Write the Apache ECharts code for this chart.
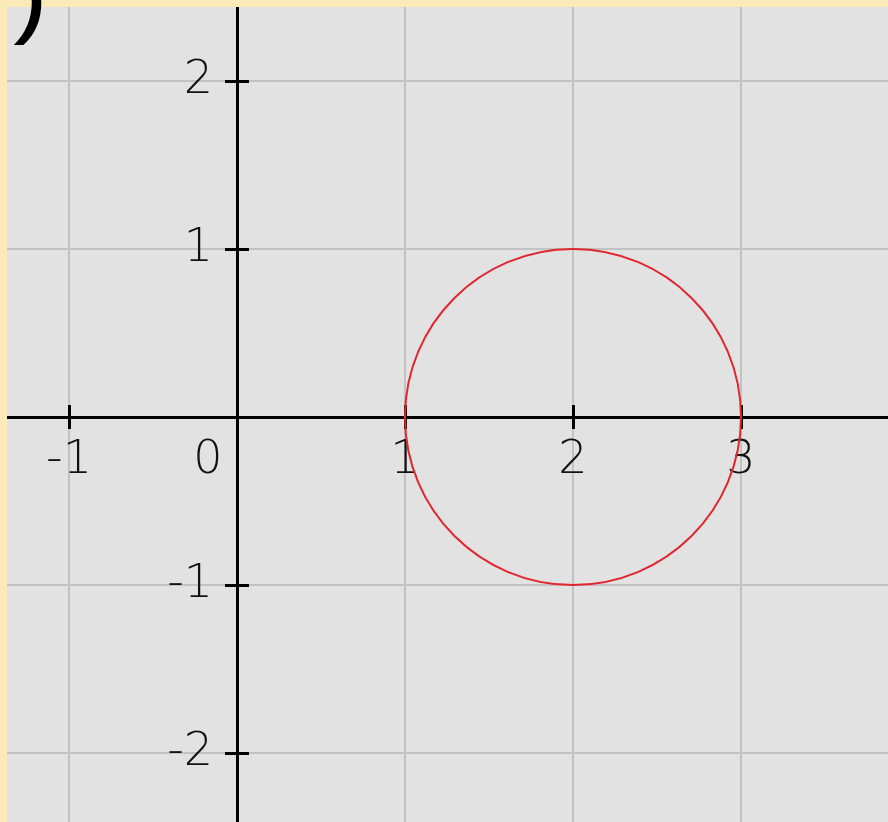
<!DOCTYPE html>
<html>
<head>
<meta charset="utf-8">
<script src="https://cdn.jsdelivr.net/npm/echarts@6/dist/echarts.min.js"></script>
<style>
html,body{margin:0;padding:0;background:#fbe9b8;}
#c{width:888px;height:822px;}
</style>
</head>
<body>
<div id="c"></div>
<script>
// ---- data ----
const xTicks = [-1, 0, 1, 2, 3];
const yTicks = [-2, -1, 1, 2];
const circleCenter = [2, 0];
const circleRadius = [1];
const cornerText = ')';

const xRange = [-2, 4];
const yRange = [-3, 3];

// layout (pixels): origin and unit
const unit = 168, ox = 237, oy = 417, W = 888, H = 822;
const gLeft = ox + xRange[0] * unit;
const gRight = W - (ox + xRange[1] * unit);
const gTop = oy - yRange[1] * unit;
const gBottom = H - (oy - yRange[0] * unit);

const chart = echarts.init(document.getElementById('c'), null, {renderer: 'canvas'});

const labelFont = 'DejaVu Sans';
const labelSize = 46;

function xFmt(v) {
  if (xTicks.indexOf(v) < 0) return '';
  return v === 0 ? '{z|0}' : String(v);
}
function yFmt(v) {
  if (yTicks.indexOf(v) < 0) return '';
  return String(v);
}

const gridLine = {show: true, lineStyle: {color: '#c2c2c2', width: 2}};
const axisLineStyle = {color: '#000', width: 3};
const tickStyle = {show: true, length: 12, lineStyle: {color: '#000', width: 3}};

const option = {
  backgroundColor: '#e2e2e2',
  animation: false,
  grid: {left: gLeft, right: gRight, top: gTop, bottom: gBottom, containLabel: false, outerBoundsMode: 'none'},
  xAxis: [
    {
      type: 'value', min: xRange[0], max: xRange[1], interval: 1, position: 'bottom',
      offset: -((H - gBottom) - oy),
      axisLine: {show: true, onZero: false, lineStyle: axisLineStyle},
      axisTick: tickStyle,
      splitLine: gridLine,
      axisLabel: {
        show: true, margin: 21, formatter: xFmt, color: '#111', hideOverlap: false,
        fontFamily: labelFont, fontSize: labelSize, fontWeight: 200, lineHeight: 46,
        rich: {z: {padding: [0, 58, 0, 0], fontFamily: labelFont, fontSize: labelSize, fontWeight: 200, color: '#111', lineHeight: 46}}
      }
    },
    {
      type: 'value', min: xRange[0], max: xRange[1], interval: 1, position: 'top',
      offset: -(oy - gTop),
      axisLine: {show: false, onZero: false},
      axisTick: tickStyle,
      splitLine: {show: false},
      axisLabel: {show: false}
    }
  ],
  yAxis: [
    {
      type: 'value', min: yRange[0], max: yRange[1], interval: 1, position: 'left',
      offset: -(ox - gLeft),
      axisLine: {show: true, onZero: false, lineStyle: axisLineStyle},
      axisTick: tickStyle,
      splitLine: gridLine,
      axisLabel: {
        show: true, margin: 24, formatter: yFmt, color: '#111', hideOverlap: false,
        fontFamily: labelFont, fontSize: labelSize, fontWeight: 200
      }
    },
    {
      type: 'value', min: yRange[0], max: yRange[1], interval: 1, position: 'right',
      offset: -((W - gRight) - ox),
      axisLine: {show: false, onZero: false},
      axisTick: tickStyle,
      splitLine: {show: false},
      axisLabel: {show: false}
    }
  ],
  series: [{
    type: 'custom',
    coordinateSystem: 'cartesian2d',
    xAxisIndex: 0, yAxisIndex: 0,
    clip: false,
    z: 10,
    data: [[circleCenter[0], circleCenter[1], circleRadius[0]]],
    renderItem: function (params, api) {
      const c = api.coord([api.value(0), api.value(1)]);
      const s = api.size([api.value(2), api.value(2)]);
      return {
        type: 'ellipse',
        shape: {cx: c[0], cy: c[1], rx: s[0], ry: s[1]},
        style: {fill: null, stroke: '#e0262e', lineWidth: 2}
      };
    }
  }],
  graphic: [
    {type: 'rect', z: 100, shape: {x: 0, y: 0, width: 7, height: H}, style: {fill: '#fbe9b8'}},
    {type: 'rect', z: 100, shape: {x: 0, y: 0, width: W, height: 7}, style: {fill: '#fbe9b8'}},
    {type: 'text', z: 101, x: 20, y: 46, style: {text: cornerText, fill: '#000', font: 'italic bold 70px "Liberation Sans"', verticalAlign: 'bottom'}}
  ]
};
chart.setOption(option);
</script>
</body>
</html>
